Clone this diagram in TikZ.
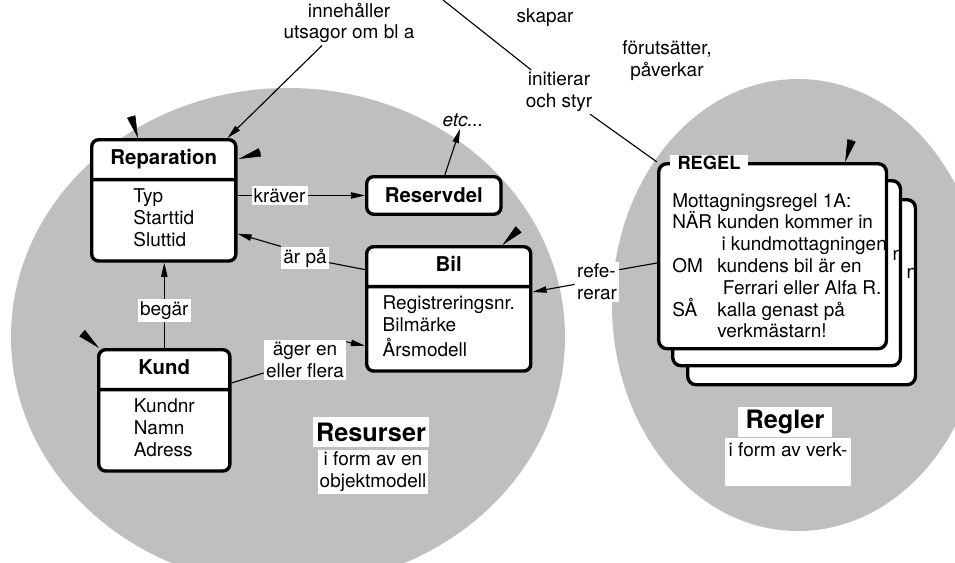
\documentclass[tikz,border=0pt]{standalone}
\usepackage{fontspec}
\setmainfont{TeX Gyre Heros}
\usetikzlibrary{arrows.meta,shapes.multipart,calc}

\newcommand{\bodyfont}{\fontsize{13.5}{15.5}\selectfont}
\newcommand{\titlefont}{\fontsize{14.5}{17}\selectfont\bfseries}
\newcommand{\bigfont}{\fontsize{18}{21}\selectfont\bfseries}
\newcommand{\attrs}[1]{\begin{tabular}{@{}l@{}}#1\end{tabular}}
\newcommand{\kw}[1]{\makebox[32pt][l]{#1}}

\tikzset{
  disk/.style={fill=black!25},
  classbox/.style={draw, line width=2.4pt, rounded corners=5pt, fill=white,
    rectangle split, rectangle split parts=2, align=center,
    inner xsep=0pt, inner ysep=4.5pt, anchor=north west, font=\bodyfont},
  namebox/.style={draw, line width=2.4pt, rounded corners=5pt, fill=white,
    anchor=north west, font=\titlefont},
  card/.style={draw, line width=2.4pt, rounded corners=6pt, fill=white,
    minimum width=162pt, minimum height=131.6pt, anchor=north west},
  lbl/.style={fill=white, inner sep=1.5pt, align=center, font=\bodyfont},
  link/.style={line width=0.8pt},
  arrowlink/.style={line width=0.8pt, -{Triangle[length=10pt,width=4.5pt]}},
  wedge/.style={-{Triangle[length=16pt,width=6pt]}},
}

\begin{document}
\begin{tikzpicture}[x=0.025cm, y=-0.025cm]
  \useasboundingbox (0,0) rectangle (955,562);
  \fill[white] (0,0) rectangle (955,562);

  % the two grey areas
  \begin{scope}
    \clip (0,0) rectangle (955,562);
    \fill[disk] (288,337) ellipse [x radius=277, y radius=249];
    \fill[disk] (798,305) ellipse [x radius=186, y radius=226];
  \end{scope}

  % classes
  \node[classbox, text width=102.5pt] (rep) at (90,138)
    {\titlefont Reparation\strut \nodepart{second} \attrs{Typ\\Starttid\\Sluttid}};
  \node[classbox, text width=116.7pt] (bil) at (365,245)
    {\titlefont Bil\strut \nodepart{second} \attrs{Registreringsnr.\\Bilmärke\\Årsmodell}};
  \node[classbox, text width=93.3pt] (kund) at (97,348)
    {\titlefont Kund\strut \nodepart{second} \attrs{Kundnr\\Namn\\Adress}};
  \node[namebox, minimum width=95.5pt, minimum height=26.7pt] (resv) at (365,175) {Reservdel};

  % rule cards
  \node[card] (card3) at (686,198) {};
  \node[font=\bodyfont, inner sep=0pt] (n3) at (912,273) {n};
  \node[card] (card2) at (671,179) {};
  \node[font=\bodyfont, inner sep=0pt] (n2) at (898,255) {n};
  \node[card] (card1) at (657,162) {};
  \node[font=\fontsize{13}{15}\selectfont\bfseries, fill=white, inner xsep=5pt, inner ysep=1pt] (regel) at (709,163) {REGEL};
  \node[font=\bodyfont, align=left, anchor=north west, inner sep=0pt] (regeltext) at (672,193)
    {Mottagningsregel 1A:\\
     NÄR kunden kommer in\\
     \hspace*{35pt}i kundmottagningen\\
     \kw{OM}kundens bil är en\\
     \hspace*{36pt}Ferrari eller Alfa R.\\
     \kw{SÅ}kalla genast på\\
     \hspace*{32pt}verkmästarn!};

  % small wedges on the boxes
  \draw[wedge] (131,116) -- ($(rep.north west)+(48,0)$);
  \draw[wedge] (261,152) -- ($(rep.north east)+(1,21)$);
  \draw[wedge] (519,229) -- ($(bil.north east)+(-30,0)$);
  \draw[wedge] (82,333) -- ($(kund.north west)+(2,0)$);
  \draw[wedge] (852,139) -- ($(card1.north east)+(-43,0)$);

  % labels
  \node[lbl] (innehall) at (349,23) {innehåller\\utsagor om bl a};
  \node[lbl] (skapar) at (545,18) {skapar};
  \node[lbl] (forut) at (667,61) {förutsätter,\\påverkar};
  \node[lbl] (init) at (559,92) {initierar\\och styr};
  \node[lbl, font=\bodyfont\itshape, fill=none] (etc) at (463,120) {etc...};
  \node[lbl] (arpa) at (305,258) {är på};
  \node[lbl, align=left] (refer) at (597,282) {refe-\\rerar};
  \node[lbl] (ager) at (305,360) {äger en\\eller flera};
  \node[lbl, font=\bigfont, minimum width=83pt, minimum height=21pt] (resurser) at (371,432) {Resurser};
  \node[lbl] (resdesc) at (373,472) {i form av en\\objektmodell};
  \node[lbl, font=\bigfont, minimum width=67pt, minimum height=22pt] (regler) at (785,422) {Regler};
  \node[lbl, anchor=north, minimum width=90pt, inner ysep=3pt, text depth=18pt] (regdesc) at (788,438) {i form av verk-};

  % connectors
  \draw[arrowlink] ($(innehall.south)+(-27,0)$) -- ($(rep.north east)+(-10,0)$);
  \coordinate (topcut) at (443,0);
  \draw[link] (topcut) -- (init);
  \draw[link] (init) -- (card1.north west);
  \draw[arrowlink] (rep.east |- resv.west) -- node[lbl, pos=0.33] (kraver) {kräver} (resv.west);
  \draw[arrowlink] ($(resv.north)+(11,0)$) -- (etc);
  \draw[link] ($(bil.north west)+(2,25)$) -- (arpa);
  \draw[arrowlink] (arpa.north west) -- ($(rep.south east)+(0,-29)$);
  \draw[link] ($(card1.north west)+(0,101)$) -- ($(refer.north east)+(0,8)$);
  \draw[arrowlink] ($(refer.south west)+(0,-18)$) -- ($(bil.north east)+(0,47)$);
  \draw[arrowlink] (kund.north) -- node[lbl, pos=0.44] (begar) {begär} (kund.north |- rep.south);
  \draw[link] ($(kund.north east)+(0,35)$) -- (ager);
  \draw[arrowlink] ($(ager.north east)+(0,2)$) -- ($(bil.south west)+(0,-27)$);
\end{tikzpicture}
\end{document}
